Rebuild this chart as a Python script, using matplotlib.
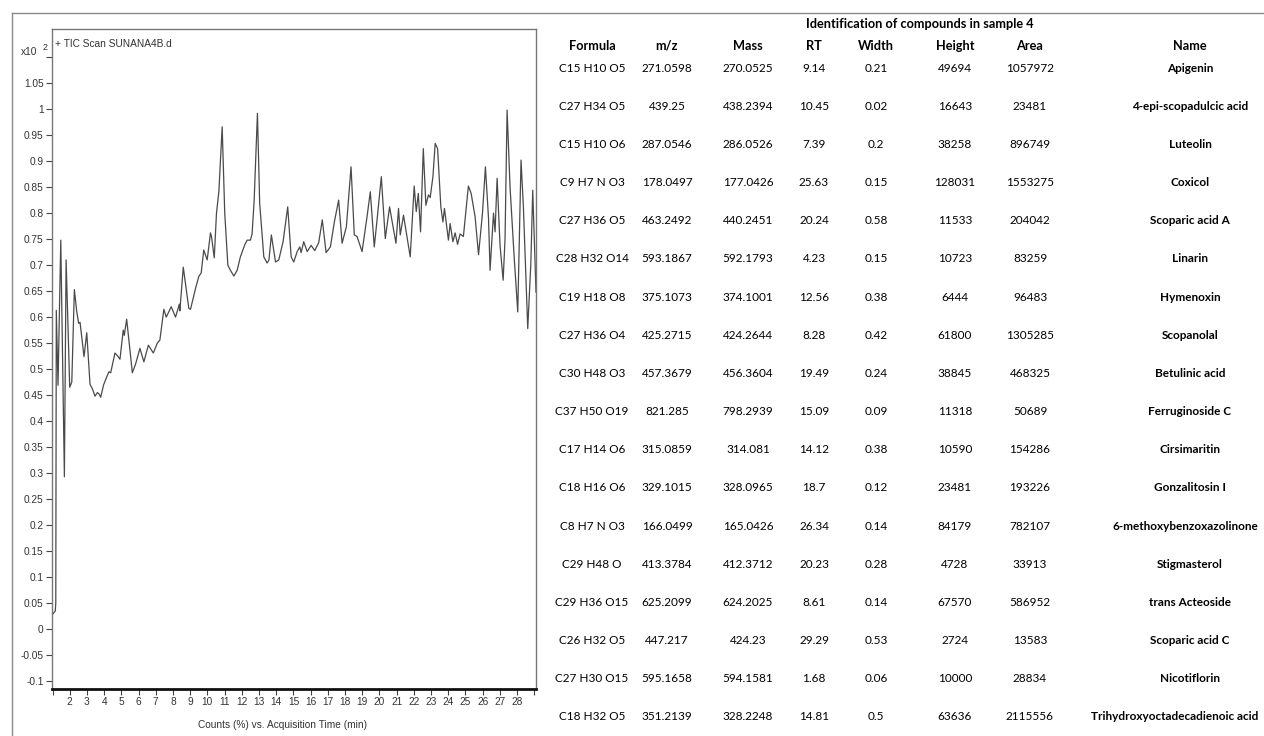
import numpy as np
import matplotlib
matplotlib.use("Agg")
import matplotlib.pyplot as plt
from matplotlib.lines import Line2D

# TIC trace, counts in x10^2 vs acquisition time (min)
time_min = [1.01, 1.16, 1.19, 1.22, 1.32, 1.48, 1.69, 1.79, 2.00, 2.12,
            2.27, 2.41, 2.52, 2.60, 2.83, 2.99, 3.18, 3.32, 3.47, 3.61,
            3.71, 3.80, 3.97, 4.15, 4.28, 4.38, 4.63, 4.79, 4.92, 5.11,
            5.17, 5.31, 5.64, 5.83, 6.08, 6.31, 6.57, 6.86, 7.09, 7.24,
            7.47, 7.61, 7.90, 8.15, 8.37, 8.40, 8.60, 8.92, 9.02, 9.31,
            9.50, 9.64, 9.79, 9.99, 10.18, 10.24, 10.40, 10.53, 10.67, 10.86,
            11.01, 11.19, 11.34, 11.54, 11.73, 11.92, 12.16, 12.31, 12.50, 12.60,
            12.72, 12.91, 13.04, 13.28, 13.47, 13.58, 13.72, 13.96, 14.15, 14.40,
            14.67, 14.87, 15.02, 15.22, 15.37, 15.45, 15.60, 15.80, 16.03, 16.24,
            16.47, 16.68, 16.90, 17.15, 17.38, 17.63, 17.83, 18.08, 18.35, 18.54,
            18.70, 18.99, 19.28, 19.47, 19.70, 19.89, 20.11, 20.34, 20.59, 20.79,
            20.96, 21.11, 21.21, 21.40, 21.60, 21.79, 22.02, 22.14, 22.26, 22.39,
            22.55, 22.70, 22.85, 22.95, 23.11, 23.24, 23.38, 23.57, 23.69, 23.78,
            24.01, 24.11, 24.27, 24.40, 24.54, 24.69, 24.88, 25.17, 25.33, 25.56,
            25.76, 25.99, 26.16, 26.34, 26.43, 26.63, 26.72, 26.84, 27.01, 27.19,
            27.30, 27.42, 27.59, 27.83, 28.04, 28.23, 28.37, 28.62, 28.80, 28.91,
            29.10]
counts = [0.029, 0.035, 0.05, 0.613, 0.469, 0.748, 0.293, 0.71, 0.465, 0.475,
          0.653, 0.61, 0.588, 0.59, 0.524, 0.57, 0.471, 0.462, 0.448, 0.455,
          0.452, 0.446, 0.47, 0.485, 0.495, 0.493, 0.531, 0.525, 0.519, 0.575,
          0.565, 0.596, 0.493, 0.51, 0.54, 0.514, 0.546, 0.531, 0.55, 0.556,
          0.615, 0.60, 0.62, 0.60, 0.625, 0.612, 0.696, 0.617, 0.615, 0.655,
          0.678, 0.685, 0.729, 0.71, 0.762, 0.755, 0.714, 0.80, 0.842, 0.966,
          0.80, 0.70, 0.69, 0.679, 0.69, 0.716, 0.738, 0.748, 0.748, 0.76,
          0.825, 0.992, 0.819, 0.716, 0.704, 0.71, 0.758, 0.706, 0.71, 0.745,
          0.812, 0.716, 0.706, 0.726, 0.735, 0.724, 0.745, 0.726, 0.738, 0.728,
          0.743, 0.787, 0.724, 0.735, 0.783, 0.825, 0.742, 0.774, 0.889, 0.758,
          0.755, 0.726, 0.793, 0.841, 0.735, 0.796, 0.87, 0.751, 0.812, 0.774,
          0.742, 0.809, 0.758, 0.796, 0.755, 0.716, 0.852, 0.803, 0.838, 0.764,
          0.924, 0.815, 0.835, 0.83, 0.87, 0.934, 0.924, 0.812, 0.783, 0.809,
          0.748, 0.78, 0.745, 0.762, 0.74, 0.76, 0.755, 0.852, 0.838, 0.793,
          0.72, 0.80, 0.889, 0.79, 0.69, 0.80, 0.764, 0.867, 0.738, 0.671,
          0.75, 0.998, 0.851, 0.716, 0.61, 0.902, 0.81, 0.578, 0.703, 0.844,
          0.648]

# compound table
col_headers = ["Formula", "m/z", "Mass", "RT", "Width", "Height", "Area", "Name"]
formulas = ["C15 H10 O5", "C27 H34 O5", "C15 H10 O6", "C9 H7 N O3", "C27 H36 O5",
            "C28 H32 O14", "C19 H18 O8", "C27 H36 O4", "C30 H48 O3", "C37 H50 O19",
            "C17 H14 O6", "C18 H16 O6", "C8 H7 N O3", "C29 H48 O", "C29 H36 O15",
            "C26 H32 O5", "C27 H30 O15", "C18 H32 O5"]
mz = ["271.0598", "439.25", "287.0546", "178.0497", "463.2492", "593.1867",
      "375.1073", "425.2715", "457.3679", "821.285", "315.0859", "329.1015",
      "166.0499", "413.3784", "625.2099", "447.217", "595.1658", "351.2139"]
mass = ["270.0525", "438.2394", "286.0526", "177.0426", "440.2451", "592.1793",
        "374.1001", "424.2644", "456.3604", "798.2939", "314.081", "328.0965",
        "165.0426", "412.3712", "624.2025", "424.23", "594.1581", "328.2248"]
rt = ["9.14", "10.45", "7.39", "25.63", "20.24", "4.23", "12.56", "8.28", "19.49",
      "15.09", "14.12", "18.7", "26.34", "20.23", "8.61", "29.29", "1.68", "14.81"]
width = ["0.21", "0.02", "0.2", "0.15", "0.58", "0.15", "0.38", "0.42", "0.24",
         "0.09", "0.38", "0.12", "0.14", "0.28", "0.14", "0.53", "0.06", "0.5"]
height = ["49694", "16643", "38258", "128031", "11533", "10723", "6444", "61800",
          "38845", "11318", "10590", "23481", "84179", "4728", "67570", "2724",
          "10000", "63636"]
area = ["1057972", "23481", "896749", "1553275", "204042", "83259", "96483",
        "1305285", "468325", "50689", "154286", "193226", "782107", "33913",
        "586952", "13583", "28834", "2115556"]
names = ["Apigenin", "4-epi-scopadulcic acid", "Luteolin", "Coxicol", "Scoparic acid A",
         "Linarin", "Hymenoxin", "Scopanolal", "Betulinic acid", "Ferruginoside C",
         "Cirsimaritin", "Gonzalitosin I", "6-methoxybenzoxazolinone", "Stigmasterol",
         "trans Acteoside", "Scoparic acid C", "Nicotiflorin",
         "Trihydroxyoctadecadienoic acid"]

W, H = 1264, 736
narrow = ["Liberation Sans Narrow", "Liberation Sans", "DejaVu Sans"]
tbl_font = ["Lato", "DejaVu Sans"]


def fx(x):
    return x / W


def fy(y):
    return 1 - y / H


fig = plt.figure(figsize=(W / 100, H / 100), dpi=100)
fig.patch.set_facecolor("white")

# outer frame (left + top edges)
fig.add_artist(Line2D([fx(12), fx(12)], [fy(13), 0], color="#8a8a8a", lw=1.0))
fig.add_artist(Line2D([fx(12), 1], [fy(13), fy(13)], color="#8a8a8a", lw=1.0))

ax = fig.add_axes([fx(52), fy(689), fx(536) - fx(52), (689 - 29) / H])
ax.plot(time_min, counts, color="#4a4a4a", lw=0.9)

ax.set_xlim(0.97, 29.1)
ax.set_ylim(-0.115, 1.154)

tick_fs = 7.3
xt = list(range(1, 30))
ax.set_xticks(xt)
ax.set_xticklabels([str(t) if 2 <= t <= 28 else "" for t in xt],
                   fontfamily=narrow, fontsize=tick_fs, color="#333333")
yt = np.round(np.arange(-0.1, 1.101, 0.05), 2)
ax.set_yticks(yt)
ax.set_yticklabels(["%g" % v if v < 1.09 else "" for v in yt],
                   fontfamily=narrow, fontsize=tick_fs, color="#333333")
ax.tick_params(direction="out", length=4, width=0.8, color="#444444", pad=2)

for side in ["left", "top", "right"]:
    ax.spines[side].set_color("#777777")
    ax.spines[side].set_linewidth(1.0)
ax.spines["bottom"].set_color("#111111")
ax.spines["bottom"].set_linewidth(2.0)

ax.text(0.006, 0.985, "+ TIC Scan SUNANA4B.d", transform=ax.transAxes,
        ha="left", va="top", fontfamily=narrow, fontsize=tick_fs, color="#333333")
fig.text(fx(21), fy(52), "x10", ha="left", va="center",
         fontfamily=narrow, fontsize=tick_fs, color="#333333")
fig.text(fx(43), fy(48), "2", ha="left", va="center",
         fontfamily=narrow, fontsize=6.5, color="#333333")
fig.text(fx(282), fy(725), "Counts (%) vs. Acquisition Time (min)", ha="center",
         va="center", fontfamily=narrow, fontsize=tick_fs, color="#333333")

# table
col_x = [592, 667, 748, 814, 876, 955, 1030, 1190]
right_limit = 1258
fig.text(fx(920), fy(24), "Identification of compounds in sample 4", ha="center",
         va="center", fontfamily=tbl_font, fontweight="bold", fontsize=9.2)
for cx, hd in zip(col_x, col_headers):
    fig.text(fx(cx), fy(46), hd, ha="center", va="center",
             fontfamily=tbl_font, fontweight="bold", fontsize=9.2)

row_y = np.linspace(68, 717, len(names))
renderer = fig.canvas.get_renderer()
for i, ry in enumerate(row_y):
    cells = [formulas[i], mz[i], mass[i], rt[i], width[i], height[i], area[i]]
    for cx, val in zip(col_x, cells):
        fig.text(fx(cx), fy(ry), val, ha="center", va="center",
                 fontfamily=tbl_font, fontsize=8.5)
    t = fig.text(fx(col_x[-1]), fy(ry), names[i], ha="center", va="center",
                 fontfamily=tbl_font, fontweight="bold", fontsize=8.5)
    # long names spill left instead of past the right edge
    if t.get_window_extent(renderer).x1 > right_limit:
        t.set_horizontalalignment("right")
        t.set_x(fx(right_limit))

fig.savefig("out.png", dpi=100, facecolor="white")
